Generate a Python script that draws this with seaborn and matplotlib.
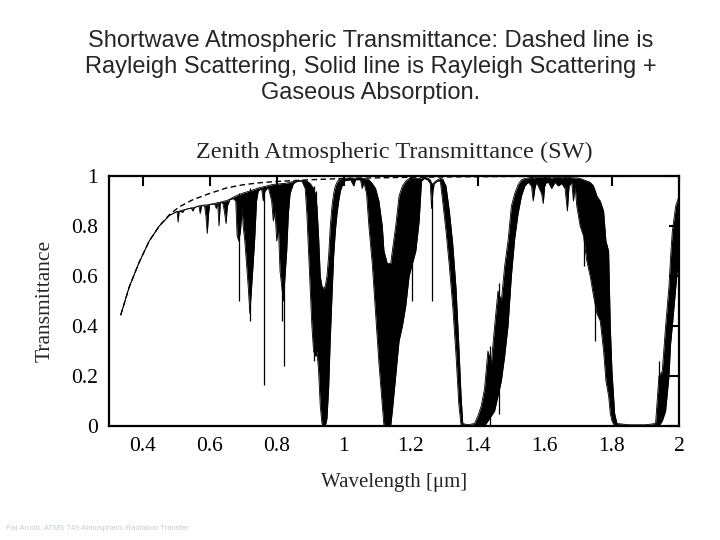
import numpy as np
import matplotlib
matplotlib.use("Agg")
import matplotlib.pyplot as plt
import seaborn as sns

# --- datos ---
# Rayleigh (linea discontinua)
rayleigh_wl = [0.335, 0.36, 0.39, 0.42, 0.45, 0.48, 0.51, 0.55, 0.60, 0.65,
               0.70, 0.75, 0.80, 0.90, 1.00, 1.20, 1.50, 2.00]
rayleigh_t = [0.444, 0.555, 0.655, 0.740, 0.800, 0.845, 0.877, 0.905, 0.930, 0.952,
              0.965, 0.973, 0.978, 0.985, 0.990, 0.995, 0.998, 0.999]

# Rayleigh + absorcion gaseosa: envolvente superior / inferior de la linea continua
spec_wl = [0.335, 0.36, 0.39, 0.42, 0.45, 0.48, 0.50, 0.503, 0.506, 0.509,
           0.52, 0.525, 0.545, 0.55, 0.555, 0.568, 0.572, 0.576, 0.585, 0.589,
           0.593, 0.597, 0.60, 0.615, 0.62, 0.624, 0.628, 0.632, 0.64, 0.645,
           0.649, 0.653, 0.66, 0.67, 0.678, 0.682, 0.687, 0.692, 0.697, 0.70,
           0.705, 0.71, 0.715, 0.72, 0.725, 0.73, 0.735, 0.74, 0.745, 0.755,
           0.76, 0.765, 0.775, 0.785, 0.79, 0.795, 0.80, 0.805, 0.81, 0.815,
           0.82, 0.825, 0.83, 0.835, 0.84, 0.85, 0.86, 0.875, 0.885, 0.89,
           0.895, 0.90, 0.905, 0.91, 0.915, 0.92, 0.925, 0.93, 0.935, 0.94,
           0.945, 0.95, 0.955, 0.96, 0.965, 0.97, 0.975, 0.98, 0.985, 0.99,
           0.995, 1.00, 1.02, 1.03, 1.035, 1.05, 1.055, 1.06, 1.068, 1.075,
           1.085, 1.095, 1.105, 1.115, 1.12, 1.13, 1.14, 1.145, 1.155, 1.165,
           1.175, 1.185, 1.195, 1.205, 1.215, 1.225, 1.232, 1.24, 1.25, 1.258,
           1.262, 1.266, 1.27, 1.28, 1.288, 1.295, 1.305, 1.315, 1.325, 1.335,
           1.343, 1.35, 1.355, 1.37, 1.39, 1.40, 1.41, 1.42, 1.43, 1.44,
           1.45, 1.46, 1.47, 1.48, 1.49, 1.50, 1.51, 1.52, 1.53, 1.54,
           1.55, 1.56, 1.565, 1.57, 1.575, 1.58, 1.59, 1.595, 1.60, 1.61,
           1.62, 1.63, 1.64, 1.65, 1.66, 1.667, 1.672, 1.68, 1.685, 1.69,
           1.695, 1.705, 1.715, 1.725, 1.735, 1.745, 1.755, 1.765, 1.775, 1.782,
           1.79, 1.795, 1.80, 1.808, 1.815, 1.85, 1.90, 1.93, 1.94, 1.95,
           1.96, 1.97, 1.975, 1.98, 1.99, 2.00]
spec_hi = [0.444, 0.555, 0.655, 0.740, 0.800, 0.842, 0.856, 0.858, 0.858, 0.859,
           0.864, 0.865, 0.872, 0.873, 0.874, 0.880, 0.881, 0.882, 0.884, 0.884,
           0.885, 0.885, 0.886, 0.890, 0.892, 0.893, 0.894, 0.895, 0.898, 0.900,
           0.901, 0.903, 0.907, 0.915, 0.920, 0.923, 0.925, 0.928, 0.930, 0.932,
           0.934, 0.936, 0.938, 0.940, 0.942, 0.945, 0.947, 0.950, 0.952, 0.955,
           0.957, 0.958, 0.962, 0.965, 0.966, 0.967, 0.968, 0.968, 0.969, 0.969,
           0.970, 0.970, 0.972, 0.973, 0.975, 0.978, 0.980, 0.982, 0.982, 0.980,
           0.975, 0.970, 0.960, 0.950, 0.930, 0.880, 0.760, 0.600, 0.560, 0.550,
           0.560, 0.600, 0.680, 0.800, 0.880, 0.930, 0.960, 0.975, 0.985, 0.988,
           0.990, 0.990, 0.992, 0.990, 0.992, 0.992, 0.990, 0.990, 0.988, 0.985,
           0.970, 0.950, 0.900, 0.800, 0.700, 0.650, 0.650, 0.700, 0.800, 0.920,
           0.960, 0.980, 0.990, 0.990, 0.990, 0.990, 0.992, 0.995, 0.992, 0.985,
           0.970, 0.965, 0.975, 0.985, 0.990, 0.988, 0.960, 0.860, 0.730, 0.550,
           0.330, 0.120, 0.010, 0.005, 0.010, 0.040, 0.080, 0.150, 0.300, 0.250,
           0.400, 0.540, 0.500, 0.640, 0.740, 0.880, 0.930, 0.965, 0.985, 0.990,
           0.992, 0.995, 0.993, 0.993, 0.995, 0.995, 0.995, 0.995, 0.995, 0.995,
           0.992, 0.995, 0.995, 0.993, 0.995, 0.993, 0.995, 0.993, 0.993, 0.992,
           0.992, 0.990, 0.985, 0.980, 0.975, 0.960, 0.920, 0.900, 0.860, 0.740,
           0.700, 0.400, 0.220, 0.050, 0.010, 0.005, 0.005, 0.010, 0.200, 0.220,
           0.400, 0.560, 0.680, 0.780, 0.880, 0.920]
spec_lo = [0.444, 0.555, 0.655, 0.740, 0.800, 0.842, 0.856, 0.858, 0.815, 0.859,
           0.855, 0.865, 0.872, 0.860, 0.874, 0.880, 0.850, 0.882, 0.880, 0.840,
           0.770, 0.850, 0.886, 0.888, 0.870, 0.893, 0.800, 0.895, 0.890, 0.850,
           0.810, 0.880, 0.905, 0.910, 0.900, 0.760, 0.740, 0.780, 0.870, 0.800,
           0.740, 0.650, 0.560, 0.450, 0.550, 0.650, 0.760, 0.900, 0.940, 0.950,
           0.900, 0.940, 0.955, 0.900, 0.820, 0.860, 0.740, 0.800, 0.620, 0.560,
           0.500, 0.600, 0.700, 0.850, 0.930, 0.970, 0.978, 0.980, 0.950, 0.850,
           0.700, 0.550, 0.400, 0.300, 0.280, 0.300, 0.220, 0.080, 0.010, 0.000,
           0.000, 0.030, 0.150, 0.350, 0.520, 0.680, 0.780, 0.850, 0.900, 0.940,
           0.960, 0.980, 0.985, 0.960, 0.985, 0.985, 0.950, 0.975, 0.930, 0.800,
           0.650, 0.450, 0.250, 0.080, 0.000, 0.000, 0.000, 0.060, 0.200, 0.340,
           0.400, 0.480, 0.600, 0.650, 0.700, 0.820, 0.980, 0.990, 0.985, 0.970,
           0.870, 0.940, 0.970, 0.980, 0.980, 0.900, 0.780, 0.640, 0.480, 0.280,
           0.090, 0.000, 0.000, 0.000, 0.000, 0.000, 0.000, 0.000, 0.020, 0.040,
           0.060, 0.120, 0.180, 0.280, 0.400, 0.600, 0.750, 0.850, 0.920, 0.960,
           0.975, 0.960, 0.900, 0.950, 0.975, 0.960, 0.930, 0.890, 0.970, 0.975,
           0.950, 0.975, 0.960, 0.970, 0.950, 0.860, 0.960, 0.975, 0.900, 0.960,
           0.880, 0.800, 0.760, 0.660, 0.600, 0.520, 0.450, 0.420, 0.300, 0.180,
           0.120, 0.050, 0.020, 0.000, 0.000, 0.000, 0.000, 0.000, 0.000, 0.020,
           0.060, 0.200, 0.330, 0.400, 0.550, 0.700]

# lineas de absorcion estrechas: longitud de onda, fondo, tope
line_wl = [0.689, 0.721, 0.761, 0.815, 0.822, 0.910, 0.918, 1.205, 1.264,
           1.437, 1.462, 1.718, 1.748, 1.940]
line_bottom = [0.50, 0.42, 0.165, 0.42, 0.24, 0.26, 0.28, 0.50, 0.50,
               0.00, 0.05, 0.64, 0.34, 0.00]
line_top = [0.93, 0.95, 0.96, 0.97, 0.97, 0.96, 0.94, 0.99, 0.97,
            0.32, 0.57, 0.98, 0.94, 0.26]

x_ticks = [0.4, 0.6, 0.8, 1.0, 1.2, 1.4, 1.6, 1.8, 2.0]
x_tick_labels = ["0.4", "0.6", "0.8", "1", "1.2", "1.4", "1.6", "1.8", "2"]
y_ticks = [0, 0.2, 0.4, 0.6, 0.8, 1.0]
y_tick_labels = ["0", "0.2", "0.4", "0.6", "0.8", "1"]

SLIDE_TITLE = ["Shortwave Atmospheric Transmittance: Dashed line is",
               "Rayleigh Scattering, Solid line is Rayleigh Scattering +",
               "Gaseous Absorption."]

# --- figura ---
sns.set_theme(style="white")
plt.rcParams["font.family"] = ["Liberation Serif", "DejaVu Serif"]

fig = plt.figure(figsize=(7.2, 5.4), dpi=100)
ax = fig.add_axes([0.1514, 0.2111, 0.7917, 0.463])

ax.fill_between(spec_wl, spec_lo, spec_hi, color="black", lw=0)
sns.lineplot(x=spec_wl, y=spec_hi, ax=ax, color="black", lw=0.6, sort=False, estimator=None)
sns.lineplot(x=spec_wl, y=spec_lo, ax=ax, color="black", lw=0.6, sort=False, estimator=None)
ax.vlines(line_wl, line_bottom, line_top, color="black", lw=0.9)
sns.lineplot(x=rayleigh_wl, y=rayleigh_t, ax=ax, color="black", lw=1.0,
             linestyle=(0, (4, 2.5)), sort=False, estimator=None)

ax.set_xlim(0.3, 2.0)
ax.set_ylim(0, 1)
ax.set_xticks(x_ticks)
ax.set_xticklabels(x_tick_labels)
ax.set_yticks(y_ticks)
ax.set_yticklabels(y_tick_labels)
ax.tick_params(direction="in", top=True, right=True, length=7, width=1.5,
               labelsize=15.5, pad=8, colors="black")
for sp in ax.spines.values():
    sp.set_linewidth(1.6)
    sp.set_color("black")

ax.set_title("Zenith Atmospheric Transmittance (SW)", fontsize=17.5, pad=13)
ax.set_xlabel("Wavelength [μm]", fontsize=15, labelpad=12)
ax.set_ylabel("Transmittance", fontsize=15.5, labelpad=12)

# titulo de la diapositiva
for i, line in enumerate(SLIDE_TITLE):
    fig.text(0.515, 1 - (41 + 26 * i) / 540, line, ha="center", va="center",
             fontsize=17, family=["Liberation Sans", "DejaVu Sans"])

fig.text(0.008, 1 - 528 / 540, "Pat Arnott, ATMS 749 Atmospheric Radiation Transfer",
         ha="left", va="center", fontsize=5.5, color="#c5ccd4",
         family=["Liberation Sans", "DejaVu Sans"])

fig.savefig("out.png", dpi=100)
